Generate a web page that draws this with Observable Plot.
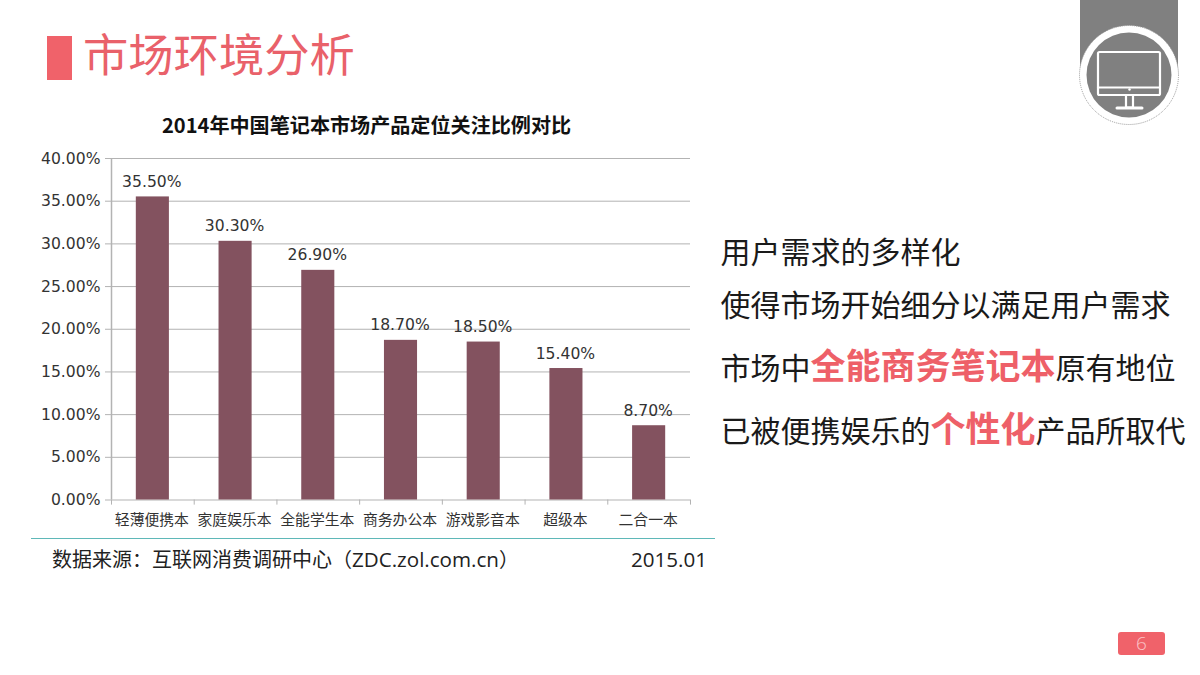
<!DOCTYPE html>
<html><head><meta charset="utf-8">
<script src="https://cdn.jsdelivr.net/npm/d3@7"></script>
<script src="https://cdn.jsdelivr.net/npm/@observablehq/plot@0.6"></script>
<style>
html,body{margin:0;padding:0;background:#fff;width:1200px;height:675px;overflow:hidden}
body{position:relative;font-family:"Open Sans","Noto Sans CJK SC",sans-serif;color:#222}
.t{position:absolute;white-space:nowrap;line-height:1}
#chart{position:absolute;left:0;top:0}
.r{font-size:30px;left:720.5px;color:#1a1a1a;font-family:"Noto Sans CJK SC"}
.r b{color:#ee6068;font-size:35px;font-weight:700;font-family:"Noto Sans CJK SC"}
.l{font-size:20.6px}
</style></head><body>
<div id="chart"></div>
<div style="position:absolute;left:47px;top:36px;width:25px;height:44px;background:#f0626a"></div>
<div class="t" style="left:83px;top:29.5px;font-size:45.3px;color:#e9616a;font-family:'Noto Sans CJK SC';font-weight:400">市场环境分析</div>
<div class="t" id="ct" style="left:162px;top:115px;font-size:20.1px;font-weight:700;color:#111;font-family:'Noto Sans CJK SC'"></div>
<div class="t r" style="top:235px">用户需求的多样化</div>
<div class="t r" style="top:288px">使得市场开始细分以满足用户需求</div>
<div class="t r" style="top:346px">市场中<b>全能商务笔记本</b>原有地位</div>
<div class="t r" style="top:409px">已被便携娱乐的<b>个性化</b>产品所取代</div>
<div style="position:absolute;left:31px;top:538px;width:684px;height:1px;background:#5fb8b8"></div>
<div class="t" style="left:52px;top:549px;font-size:20px;color:#222">数据来源：互联网消费调研中心（<span class="l">ZDC.zol.com.cn</span>）</div>
<div class="t l" style="left:631px;top:549px;color:#222">2015.01</div>
<svg style="position:absolute;left:1075px;top:0" width="110" height="130" viewBox="1075 0 110 130">
<rect x="1080" y="0" width="98" height="75" fill="#808080"/>
<circle cx="1129" cy="75" r="49.5" fill="#fff" stroke="#999" stroke-width="1" stroke-dasharray="1 1"/>
<circle cx="1129" cy="75" r="42.5" fill="#808080"/>
<g fill="none" stroke="#fff" stroke-width="2.2" stroke-linejoin="round" stroke-linecap="round">
<rect x="1098" y="52" width="62" height="43" rx="1.5"/>
<line x1="1098" y1="87.5" x2="1160" y2="87.5"/>
<rect x="1126" y="95" width="7" height="12.5"/>
<line x1="1117" y1="108" x2="1142" y2="108" stroke-width="3"/>
</g>
<circle cx="1129.5" cy="89.5" r="1.2" fill="#fff"/>
</svg>
<div style="position:absolute;left:1118px;top:632px;width:47px;height:23px;background:#f0626a;border-radius:3px"></div>
<div class="t" style="left:1118px;top:634px;width:47px;text-align:center;font-size:19px;color:#fbc4c7;font-weight:300">6</div>
<script>
const chartTitle = "2014年中国笔记本市场产品定位关注比例对比";
const categories = ["轻薄便携本","家庭娱乐本","全能学生本","商务办公本","游戏影音本","超级本","二合一本"];
const values = [35.5,30.3,26.9,18.7,18.5,15.4,8.7];
const yTicks = [0,5,10,15,20,25,30,35,40];
const barColor = "#83525f";
const gridColor = "#b3b3b3";
document.getElementById("ct").textContent = chartTitle;
const rows = categories.map((c,i)=>({c,v:values[i]}));
const mL=111, mR=510, W=1200, step=(W-mL-mR)/categories.length;
const fmt = d=>d.toFixed(2)+"%";
const plot = Plot.plot({
  width:W, height:560,
  marginLeft:mL, marginRight:mR, marginTop:158, marginBottom:60.5,
  style:{background:"transparent",overflow:"visible"},
  x:{domain:categories,paddingInner:0.6,paddingOuter:0.3,align:0.5,round:false,label:null},
  y:{domain:[0,40],label:null},
  marks:[
    Plot.ruleY(yTicks,{stroke:gridColor,strokeWidth:1}),
    Plot.axisY({ticks:yTicks,tickFormat:fmt,tickSize:6,tickPadding:5,stroke:gridColor,label:null,
      fontSize:15.6,fontFamily:"DejaVu Sans",fill:"#333"}),
    Plot.ruleX(categories,{x:d=>d,dx:-step/2,y1:0,y2:-0.6,stroke:gridColor,strokeWidth:1}),
    Plot.ruleX(categories.slice(-1),{x:d=>d,dx:step/2,y1:0,y2:-0.6,stroke:gridColor,strokeWidth:1}),
    Plot.ruleX(categories.slice(0,1),{x:d=>d,dx:-step/2,y1:0,y2:40,stroke:gridColor,strokeWidth:1.5}),
    Plot.barY(rows,{x:"c",y:"v",fill:barColor}),
    Plot.text(rows,{x:"c",y:"v",text:d=>fmt(d.v),dy:-15,dx:-1,fontSize:15.6,fontFamily:"DejaVu Sans",fill:"#333"}),
    Plot.axisX({tickSize:0,tickPadding:14,dx:-1,label:null,fontSize:14.8,fontFamily:"Noto Sans CJK SC",fill:"#333"})
  ]
});
document.getElementById("chart").appendChild(plot);
</script>
</body></html>
